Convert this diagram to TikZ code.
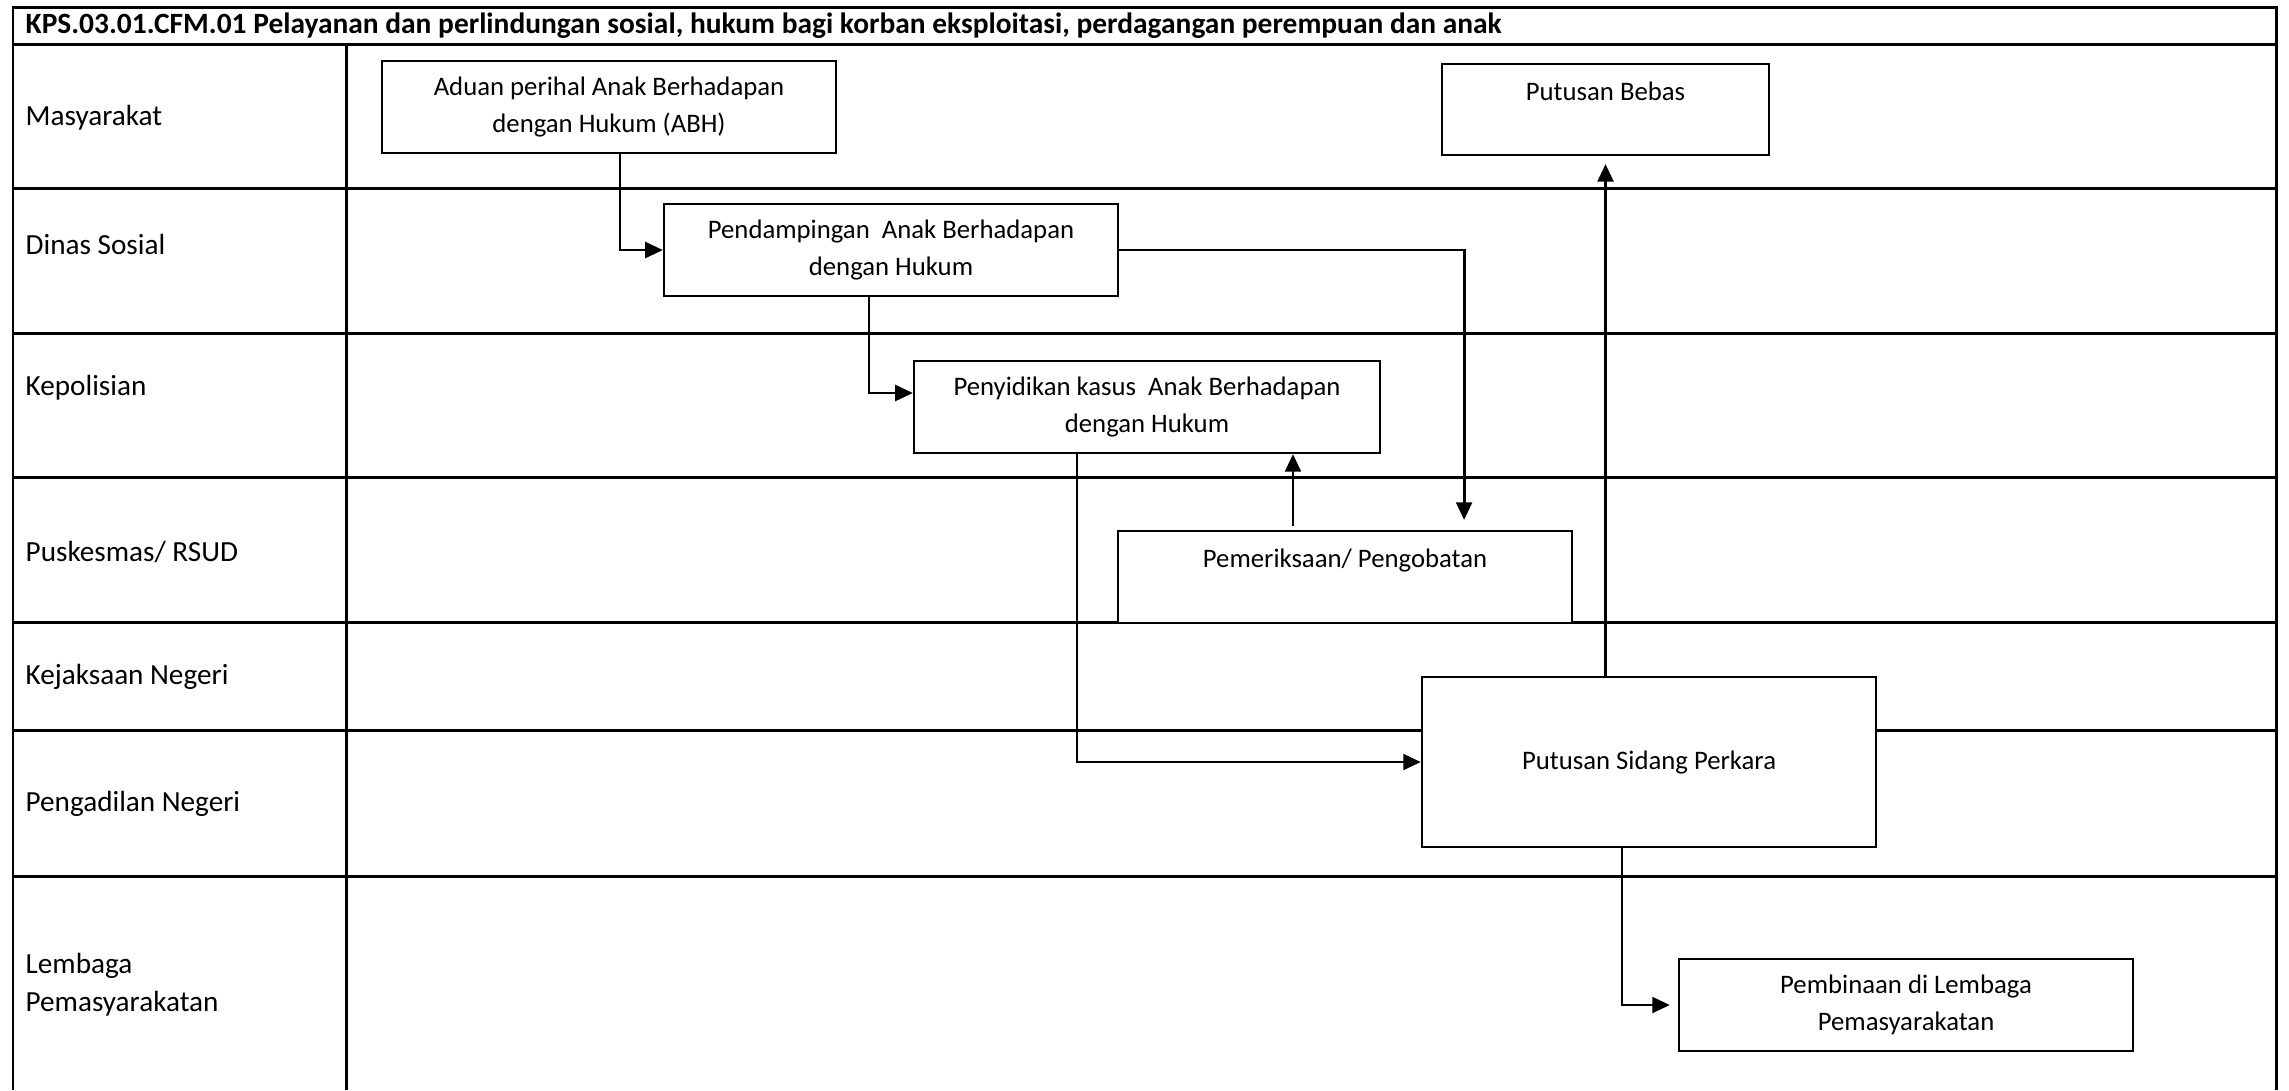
\documentclass[tikz,border=0pt]{standalone}
\usepackage{fontspec}
\setmainfont{Carlito}
\usepackage{tikz}
\usetikzlibrary{calc,positioning,arrows.meta}
\tikzset{
  every node/.style={font=\fontsize{7.6}{10.5}\selectfont},
  gridline/.style={black,line width=0.85pt},
  procbox/.style={draw=black,line width=0.6pt,fill=white,align=center,inner sep=0pt,minimum width=4.54cm,minimum height=0.92cm},
  lanelabel/.style={anchor=west,align=left,inner sep=0pt,font=\fontsize{8.3}{10.8}\selectfont},
  titlelabel/.style={anchor=west,inner sep=0pt,font=\bfseries\fontsize{8.37}{10}\selectfont},
  flow/.style={black,line width=0.8pt,-{Triangle[length=5pt,width=4.5pt]}}
}

\begin{document}
\begin{tikzpicture}[x=0.01cm,y=-0.01cm]
\useasboundingbox (0,0) rectangle (2289,1090);
% swimlane frame
\draw[gridline] (13,1090) -- (13,7) -- (2276,7) -- (2276,1090);
\draw[gridline] (13,44) -- (2276,44);
\draw[gridline] (346,44) -- (346,1090);
\foreach \y in {188,333,477,622,730,876}
  \draw[gridline] (13,\y) -- (2276,\y);
% title and lane names
\node[titlelabel] (title) at (25,25.5) {KPS.03.01.CFM.01 Pelayanan dan perlindungan sosial, hukum bagi korban eksploitasi, perdagangan perempuan dan anak};
\node[lanelabel] (masy) at (25,118) {Masyarakat};
\node[lanelabel] (dinsos) at (25,244) {Dinas Sosial};
\node[lanelabel] (polisi) at (25,388) {Kepolisian};
\node[lanelabel] (rsud) at (25,552) {Puskesmas/ RSUD};
\node[lanelabel] (jaksa) at (25,677) {Kejaksaan Negeri};
\node[lanelabel] (hakim) at (25,804) {Pengadilan Negeri};
\node[lanelabel] (lapas) at (25,985) {Lembaga\\Pemasyarakatan};
% process boxes
\node[procbox] (aduan) at (609,107) {Aduan perihal Anak Berhadapan\\dengan Hukum (ABH)};
\node[procbox,minimum width=3.27cm,minimum height=0.91cm] (bebas) at (1605.5,109.5) {Putusan Bebas\\~};
\node[procbox] (pend) at (891,250) {Pendampingan~ Anak Berhadapan\\dengan Hukum};
\node[procbox,minimum width=4.66cm] (peny) at (1147,407) {Penyidikan kasus~ Anak Berhadapan\\dengan Hukum};
\node[procbox] (pemer) at (1345,577) {Pemeriksaan/ Pengobatan\\~};
\node[procbox,minimum height=1.70cm] (sidang) at (1649,762) {Putusan Sidang Perkara};
\node[procbox] (pembin) at (1906,1005) {Pembinaan di Lembaga\\Pemasyarakatan};
% flow
\draw[flow] ([xshift=0.11cm]aduan.south) |- (pend.west);
\draw[flow] ([xshift=-0.22cm]pend.south) |- ([yshift=0.14cm]peny.west);
\draw[flow,shorten >=0.1cm] (pend.east) -| ([xshift=1.19cm]pemer.north);
\draw[flow,shorten <=0.04cm] ([xshift=-0.52cm]pemer.north) -- ([xshift=-0.52cm]pemer.north |- peny.south);
\draw[flow] ([xshift=-0.70cm]peny.south) |- (sidang.west);
\draw[flow,shorten >=0.08cm] (bebas.south |- sidang.north) -- (bebas.south);
\draw[flow,shorten >=0.08cm] ([xshift=-0.27cm]sidang.south) |- (pembin.west);
\end{tikzpicture}
\end{document}
